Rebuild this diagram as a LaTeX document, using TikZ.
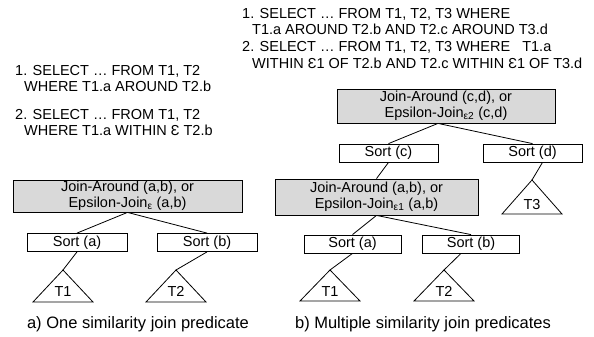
\documentclass[tikz,border=0pt]{standalone}
\usepackage{fontspec}
\setmainfont{Liberation Sans}
\usetikzlibrary{calc}
\definecolor{boxgray}{RGB}{217,217,217}
\begin{document}
\begin{tikzpicture}[x=1pt,y=-1pt,
  every node/.style={font=\fontsize{14.5}{16}\selectfont, text=black},
  joinbox/.style={draw=black, line width=0.8pt, fill=boxgray, inner sep=0pt, align=center},
  sortbox/.style={draw=black, line width=0.8pt, fill=white, inner sep=0pt, minimum height=18pt},
  tri/.style={draw=black, line width=0.8pt},
  edge/.style={draw=black, line width=0.8pt},
  qline/.style={anchor=base west, inner sep=0pt},
  tlabel/.style={anchor=base, inner sep=0pt},
  captext/.style={font=\fontsize{16.5}{18}\selectfont, anchor=base, inner sep=0pt}
]
\useasboundingbox (0,0) rectangle (594,337);

% ---------- left queries ----------
\node[qline] (qa1) at (15,75) {1. SELECT … FROM T1, T2};
\node[qline] (qa2) at (24,91) {WHERE T1.a AROUND T2.b};
\node[qline] (qa3) at (15,119) {2. SELECT … FROM T1, T2};
\node[qline] (qa4) at (24,135) {WHERE T1.a WITHIN Ɛ T2.b};

% ---------- right queries ----------
\node[qline] (qb1) at (242,19) {1. SELECT … FROM T1, T2, T3 WHERE};
\node[qline] (qb2) at (252,35) {T1.a AROUND T2.b AND T2.c AROUND T3.d};
\node[qline] (qb3) at (242,52) {2. SELECT … FROM T1, T2, T3 WHERE \ \ T1.a};
\node[qline] (qb4) at (252,68) {WITHIN Ɛ1 OF T2.b AND T2.c WITHIN Ɛ1 OF T3.d};

% ---------- left tree ----------
\node[joinbox, minimum width=229pt, minimum height=32pt] (jl) at (127.5,196)
  {Join-Around (a,b), or\\Epsilon-Join\textsubscript{ε} (a,b)};
\node[sortbox, minimum width=100pt] (sal) at (77,242.5) {Sort (a)};
\node[sortbox, minimum width=100pt] (sbl) at (207,242.5) {Sort (b)};
\coordinate (t1l) at (63,270);
\coordinate (t2l) at (176,270);
\draw[tri] (t1l) -- (93,302) -- (33,302) -- cycle;
\draw[tri] (t2l) -- (206,302) -- (146,302) -- cycle;
\node[tlabel] (t1lt) at (63,296) {T1};
\node[tlabel] (t2lt) at (176,296) {T2};
\draw[edge] (jl.south) -- (sal.north);
\draw[edge] (jl.south) -- (sbl.north);
\draw[edge] (sal.south) -- (t1l);
\draw[edge] (sbl.south) -- (t2l);
\node[captext] (capa) at (138,328) {a) One similarity join predicate};

% ---------- right tree ----------
\node[joinbox, minimum width=218pt, minimum height=34pt] (jt) at (446,106)
  {Join-Around (c,d), or\\Epsilon-Join\textsubscript{ε2} (c,d)};
\node[sortbox, minimum width=99pt] (sc) at (388.5,153) {Sort (c)};
\node[sortbox, minimum width=99pt] (sd) at (532.5,153) {Sort (d)};
\node[joinbox, minimum width=203pt, minimum height=36pt] (jm) at (376.5,197)
  {Join-Around (a,b), or\\Epsilon-Join\textsubscript{ε1} (a,b)};
\node[sortbox, minimum width=97pt] (sar) at (352.5,244) {Sort (a)};
\node[sortbox, minimum width=97pt] (sbr) at (471,244) {Sort (b)};
\coordinate (t3r) at (532,180);
\coordinate (t1r) at (330,270);
\coordinate (t2r) at (444,270);
\draw[tri] (t3r) -- (562,214) -- (502,214) -- cycle;
\draw[tri] (t1r) -- (360,301) -- (300,301) -- cycle;
\draw[tri] (t2r) -- (474,301) -- (414,301) -- cycle;
\node[tlabel] (t3rt) at (532,209) {T3};
\node[tlabel] (t1rt) at (330,296) {T1};
\node[tlabel] (t2rt) at (444,296) {T2};
\coordinate (jtb) at ($(jt.south)+(-8,0)$);
\draw[edge] (jtb) -- (sc.north);
\draw[edge] (jtb) -- (sd.north);
\draw[edge] (sc.south) -- (jm.north);
\draw[edge] ($(sd.south)+(10,0)$) -- (t3r);
\draw[edge] (jm.south) -- (sar.north);
\draw[edge] (jm.south) -- (sbr.north);
\draw[edge] (sar.south) -- (t1r);
\draw[edge] ($(sbr.south)+(-10,0)$) -- (t2r);
\node[captext] (capb) at (423,328) {b) Multiple similarity join predicates};
\end{tikzpicture}
\end{document}
